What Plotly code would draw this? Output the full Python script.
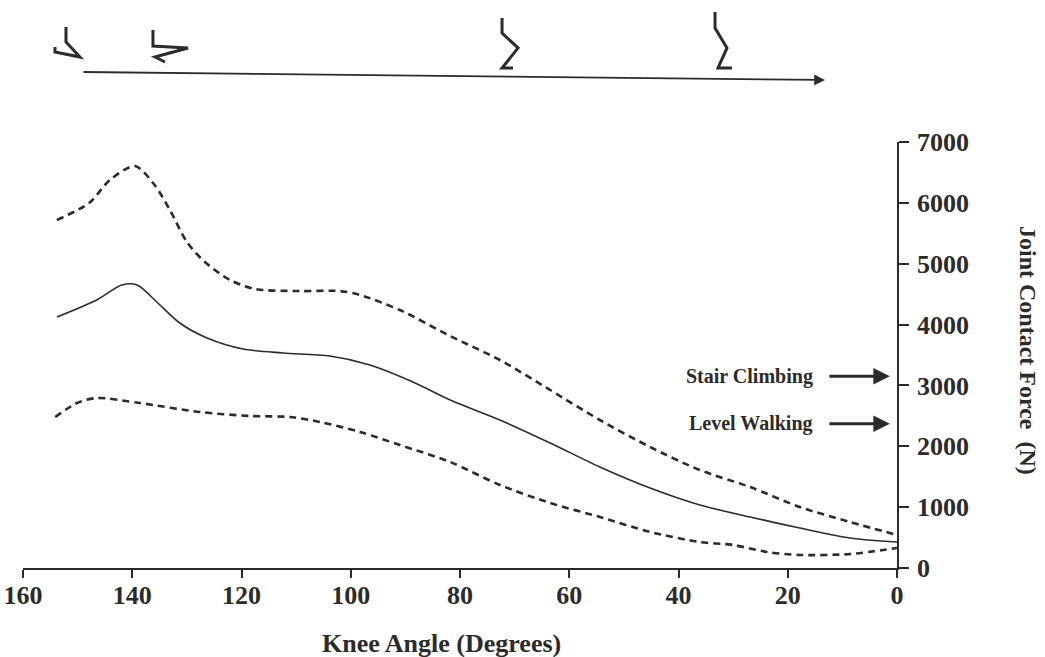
import plotly.graph_objects as go

# ---- data ----
upper_angle = [153.8, 147.9, 144.1, 139.5, 135.9, 133.1, 130.0, 126.7, 122.1, 117.5, 109.3, 102.0,
               98.3, 91.0, 81.8, 72.7, 63.5, 54.4, 45.2, 36.1, 26.9, 17.8, 8.6, 0.0]
upper_force = [5718, 5997, 6375, 6605, 6293, 5882, 5357, 5028, 4732, 4584, 4551, 4551,
               4486, 4239, 3812, 3418, 2925, 2432, 1988, 1610, 1331, 1002, 756, 542]

mean_angle = [153.8, 146.5, 141.9, 139.1, 135.5, 131.3, 126.3, 119.7, 112.4, 103.8, 96.5, 88.6,
              81.8, 72.7, 63.5, 54.4, 45.2, 36.1, 26.9, 17.8, 8.6, 0.0]
mean_force = [4124, 4404, 4650, 4650, 4371, 4026, 3779, 3598, 3533, 3483, 3336, 3056,
              2760, 2432, 2054, 1660, 1314, 1035, 838, 657, 493, 427]

lower_angle = [154.1, 150.1, 146.5, 138.6, 127.6, 118.4, 111.1, 105.6, 98.3, 91.0, 81.8, 72.7,
               63.5, 54.4, 45.2, 36.1, 30.0, 23.8, 17.8, 8.6, 0.0]
lower_force = [2481, 2711, 2793, 2711, 2563, 2498, 2481, 2399, 2235, 2021, 1742, 1364,
               1068, 838, 592, 427, 378, 263, 214, 230, 329]

x_ticks = [160, 140, 120, 100, 80, 60, 40, 20, 0]
y_ticks = [0, 1000, 2000, 3000, 4000, 5000, 6000, 7000]

ref_labels = ["Stair Climbing", "Level Walking"]
ref_forces = [3150, 2370]

# ---- layout constants ----
W, H = 1045, 657
ML, MR, MT, MB = 23, 148, 142, 89
PW, PH = W - ML - MR, H - MT - MB
INK = "#2b2b2b"
FONT = "Liberation Serif"


def px2paper(px, py):
    return (px - ML) / PW, (H - MB - py) / PH


fig = go.Figure()
for xs, ys, dash, w in [(upper_angle, upper_force, "7px,5px", 2.6),
                        (mean_angle, mean_force, "solid", 1.6),
                        (lower_angle, lower_force, "7px,5px", 2.6)]:
    fig.add_trace(go.Scatter(x=xs, y=ys, mode="lines",
                             line=dict(color=INK, width=w, dash=dash, shape="spline", smoothing=0.8),
                             showlegend=False, hoverinfo="skip"))

axis_font = dict(family=FONT, size=26, color=INK, weight="bold")

fig.update_layout(
    width=W, height=H,
    margin=dict(l=ML, r=MR, t=MT, b=MB, autoexpand=False),
    paper_bgcolor="white", plot_bgcolor="white",
    xaxis=dict(range=[160, 0], tickvals=x_ticks, ticktext=[str(v) for v in x_ticks],
               showgrid=False, zeroline=False, showline=True, linecolor=INK, linewidth=1.6,
               ticks="outside", ticklen=8, tickwidth=1.5, tickcolor=INK, automargin=False,
               tickfont=axis_font, ticklabelstandoff=-5),
    yaxis=dict(range=[0, 7000], tickvals=y_ticks, side="right", automargin=False,
               showgrid=False, zeroline=False, showline=True, linecolor=INK, linewidth=1.6,
               ticks="outside", ticklen=10, tickwidth=1.5, tickcolor=INK,
               tickfont=axis_font, ticklabelstandoff=3),
)

# axis titles
fig.add_annotation(text="Knee Angle (Degrees)", xref="paper", yref="paper",
                   x=px2paper(441, 0)[0], y=px2paper(0, 643)[1], showarrow=False,
                   xanchor="center", yanchor="middle",
                   font=dict(family=FONT, size=26, color=INK, weight="bold"))
fig.add_annotation(text="Joint Contact Force  (N)", xref="paper", yref="paper",
                   x=px2paper(1028, 0)[0], y=px2paper(0, 350)[1], showarrow=False,
                   xanchor="center", yanchor="middle",
                   textangle=90, font=dict(family=FONT, size=24, color=INK, weight="bold"))

# reference arrows
for lab, f in zip(ref_labels, ref_forces):
    fig.add_annotation(x=1.3, y=f, xref="x", yref="y", ax=-62, ay=0, text="",
                       showarrow=True, arrowhead=2, arrowsize=1.1, arrowwidth=3, arrowcolor=INK)
    fig.add_annotation(x=15, y=f, xref="x", yref="y", text=lab, showarrow=False,
                       xanchor="right", yanchor="middle",
                       font=dict(family=FONT, size=20, color=INK, weight="bold"))

# top direction arrow
hx, hy = px2paper(825, 80)
fig.add_annotation(x=hx, y=hy, xref="paper", yref="paper", ax=-743, ay=-8, text="",
                   showarrow=True, arrowhead=2, arrowsize=1.2, arrowwidth=1.8, arrowcolor=INK)

# hand-drawn leg sketches
legs = [
    [(66, 27), (66, 42), (80, 57), (55, 52), (55, 47)],
    [(153, 30), (153, 46), (188, 48), (155, 57), (165, 62)],
    [(502, 18), (502, 33), (518, 48), (502, 68), (513, 68)],
    [(715, 12), (715, 28), (727, 48), (718, 68), (732, 68)],
]
for pts in legs:
    path = ""
    for i, (px, py) in enumerate(pts):
        X, Y = px2paper(px, py)
        path += ("M" if i == 0 else "L") + f"{X:.4f},{Y:.4f} "
    fig.add_shape(type="path", path=path.strip(), xref="paper", yref="paper",
                  line=dict(color=INK, width=3))

fig.write_html("out.html", config={"displayModeBar": False},
               post_script="document.body.style.margin='0';")
